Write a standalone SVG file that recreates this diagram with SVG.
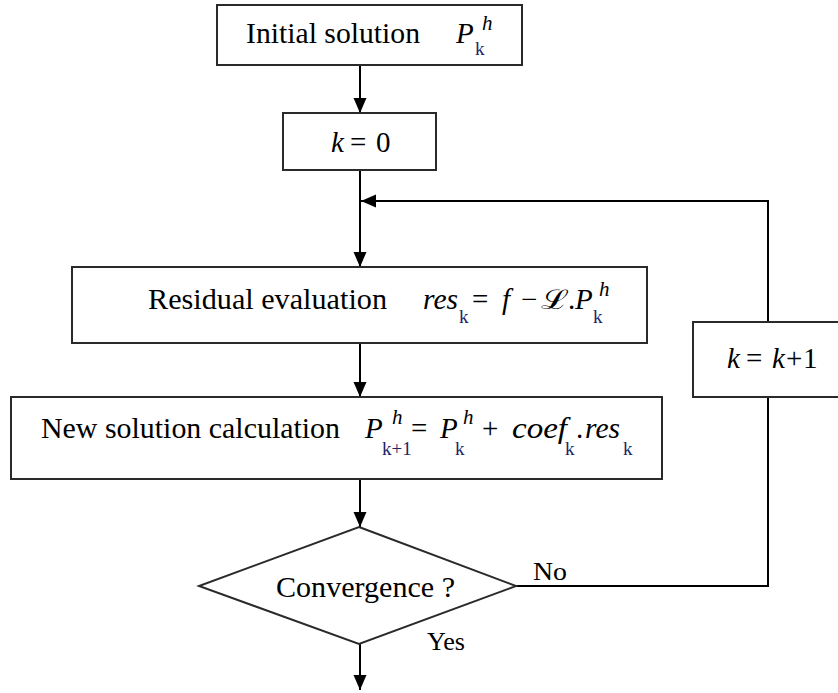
<svg xmlns="http://www.w3.org/2000/svg" width="838" height="693" viewBox="0 0 838 693">
<defs>
<style>
.box{fill:#fff;stroke:#2a2a2a;stroke-width:2}
.ln{fill:none;stroke:#000;stroke-width:2}
.t{font-family:"Liberation Serif","DejaVu Serif",serif;font-size:29px;fill:#000}
.lb{font-family:"Liberation Serif","DejaVu Serif",serif;font-size:25px;fill:#000}
.m{font-family:"Liberation Serif","DejaVu Serif",serif;font-style:italic;font-size:29px;fill:#000}
.mu{font-family:"Liberation Serif","DejaVu Serif",serif;font-size:29px;fill:#000}
.sup{font-family:"Liberation Serif","DejaVu Serif",serif;font-style:italic;font-size:21px;fill:#000}
.sub{font-family:"Liberation Serif","DejaVu Serif",serif;font-style:normal;font-size:19px;fill:#1c2466}
.scr{font-family:"DejaVu Serif","Noto Sans",serif;font-style:italic;font-size:27px;fill:#000}
</style>
<marker id="arr" markerUnits="userSpaceOnUse" markerWidth="16" markerHeight="14" refX="15" refY="6.5" orient="auto">
<path d="M0,0 L15,6.5 L0,13 z" fill="#000"/>
</marker>
</defs>

<g id="connectors">
<line class="ln" x1="360" y1="65" x2="360" y2="113" marker-end="url(#arr)"/>
<line class="ln" x1="360" y1="170" x2="360" y2="267" marker-end="url(#arr)"/>
<line class="ln" x1="360" y1="343" x2="360" y2="397" marker-end="url(#arr)"/>
<line class="ln" x1="360" y1="479" x2="360" y2="527" marker-end="url(#arr)"/>
<line class="ln" x1="360" y1="644" x2="360" y2="690" marker-end="url(#arr)"/>
<polyline class="ln" points="516,586 768,586 768,397"/>
<polyline class="ln" points="768,322 768,201 361,201" marker-end="url(#arr)"/>
<text class="lb" x="533" y="580" textLength="34" lengthAdjust="spacingAndGlyphs">No</text>
<text class="lb" x="427" y="650" textLength="38" lengthAdjust="spacingAndGlyphs">Yes</text>
</g>

<g id="initial">
<rect class="box" x="217" y="5" width="305" height="60"/>
<text class="t" x="246" y="43" textLength="174" lengthAdjust="spacingAndGlyphs">Initial solution</text>
<text class="m" x="456" y="43">P</text>
<text class="sub" x="475" y="55">k</text>
<text class="sup" x="482" y="30">h</text>
</g>

<g id="k0">
<rect class="box" x="283" y="113" width="153" height="57"/>
<text class="m" x="331" y="152">k</text>
<text class="mu" x="350" y="152">=</text>
<text class="mu" x="376" y="152">0</text>
</g>

<g id="residual">
<rect class="box" x="72" y="267" width="575" height="76"/>
<text class="t" x="148" y="309" textLength="239" lengthAdjust="spacingAndGlyphs">Residual evaluation</text>
<text class="m" x="423" y="309" textLength="35" lengthAdjust="spacingAndGlyphs">res</text>
<text class="sub" x="459" y="323">k</text>
<text class="mu" x="472" y="309">=</text>
<text class="m" x="502" y="309">f</text>
<text class="mu" x="521" y="309">−</text>
<text class="scr" x="541" y="309" textLength="28" lengthAdjust="spacingAndGlyphs">ℒ</text>
<text class="mu" x="568" y="309">.</text>
<text class="m" x="575" y="309">P<tspan class="sub" x="593" y="323">k</tspan><tspan class="sup" x="599" y="296">h</tspan></text>
</g>

<g id="newsol">
<rect class="box" x="11" y="397" width="651" height="82"/>
<text class="t" x="41" y="438" textLength="299" lengthAdjust="spacingAndGlyphs">New solution calculation</text>
<text class="m" x="365" y="438">P<tspan class="sub" x="382" y="455">k+1</tspan><tspan class="sup" x="392" y="424">h</tspan></text>
<text class="mu" x="411" y="438">=</text>
<text class="m" x="440" y="438">P<tspan class="sub" x="455" y="455">k</tspan><tspan class="sup" x="463" y="424">h</tspan></text>
<text class="mu" x="482" y="438">+</text>
<text class="m" x="512" y="438" textLength="55" lengthAdjust="spacingAndGlyphs">coef</text>
<text class="sub" x="565" y="455">k</text>
<text class="mu" x="576" y="438">.</text>
<text class="m" x="585" y="438" textLength="35" lengthAdjust="spacingAndGlyphs">res</text>
<text class="sub" x="623" y="455">k</text>
</g>

<g id="convergence">
<polygon class="box" points="359,527 516,586 359,644 199,586"/>
<text class="t" x="276" y="597" textLength="179" lengthAdjust="spacingAndGlyphs">Convergence ?</text>
</g>

<g id="increment">
<rect class="box" x="693" y="322" width="152" height="75"/>
<text class="m" x="727" y="368">k</text>
<text class="mu" x="746" y="368">=</text>
<text class="m" x="772" y="368">k</text>
<text class="mu" x="786" y="368">+</text>
<text class="mu" x="803" y="368">1</text>
</g>
</svg>
